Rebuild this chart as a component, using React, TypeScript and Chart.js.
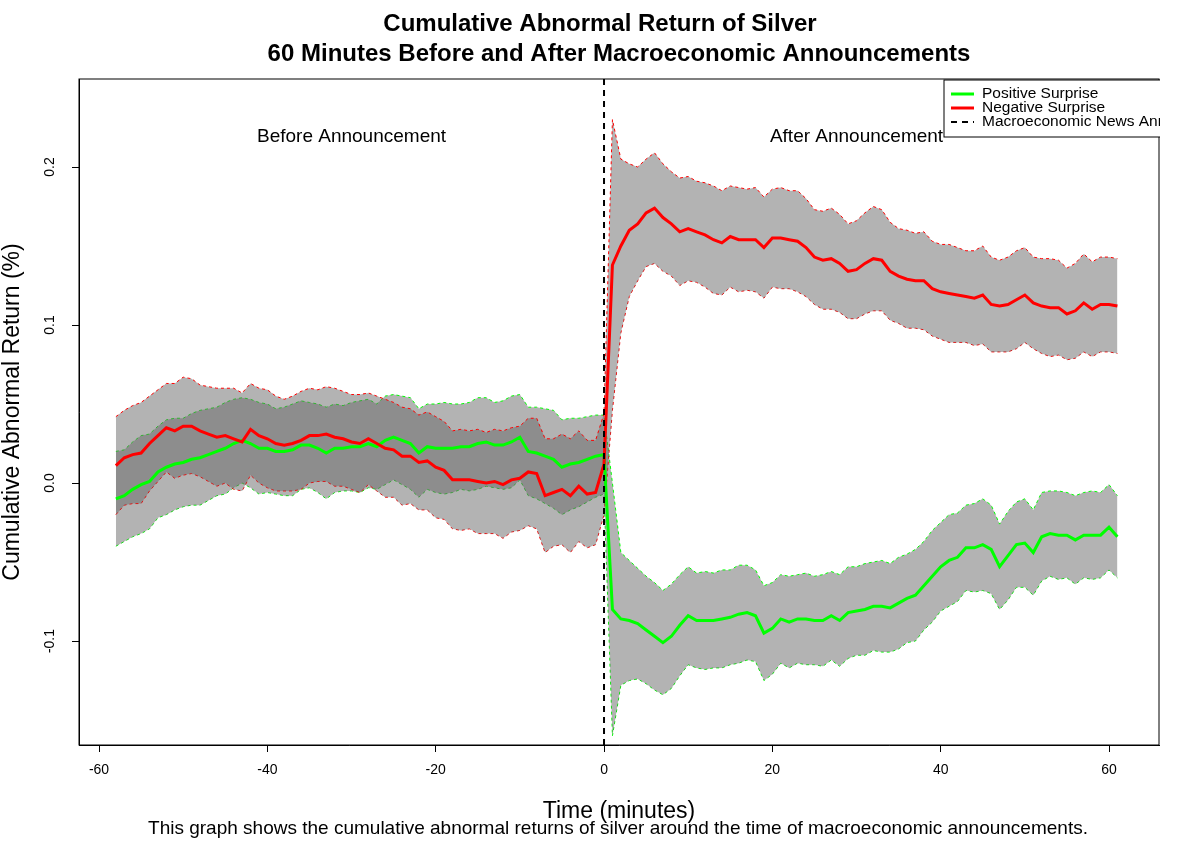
import React, { useEffect, useRef } from "react";
import { Chart, registerables } from "chart.js";
Chart.register(...registerables);

const minutes: number[] = [];
for (let t = -58; t <= 61; t++) minutes.push(t);

const negMean = [
  0.011, 0.016, 0.018, 0.019, 0.025, 0.030, 0.035, 0.033, 0.036, 0.036,
  0.033, 0.031, 0.029, 0.030, 0.028, 0.026, 0.034, 0.030, 0.028, 0.025,
  0.024, 0.025, 0.027, 0.030, 0.030, 0.031, 0.029, 0.028, 0.026, 0.025,
  0.028, 0.025, 0.022, 0.021, 0.017, 0.017, 0.013, 0.014, 0.010, 0.008,
  0.002, 0.002, 0.002, 0.001, 0.000, 0.001, -0.001, 0.002, 0.003, 0.007,
  0.006, -0.008, -0.006, -0.004, -0.008, -0.002, -0.007, -0.006, 0.012,
  0.138, 0.150, 0.160, 0.164, 0.171, 0.174, 0.168, 0.164, 0.159, 0.161,
  0.159, 0.157, 0.154, 0.152, 0.156, 0.154, 0.154, 0.154, 0.149, 0.155,
  0.155, 0.154, 0.153, 0.149, 0.143, 0.141, 0.142, 0.139, 0.134, 0.135,
  0.139, 0.142, 0.141, 0.134, 0.131, 0.129, 0.128, 0.128, 0.123, 0.121,
  0.120, 0.119, 0.118, 0.117, 0.119, 0.113, 0.112, 0.113, 0.116, 0.119,
  0.114, 0.112, 0.111, 0.111, 0.107, 0.109, 0.114, 0.110, 0.113, 0.113, 0.112,
];
const negHalf = [
  0.031, 0.030, 0.031, 0.032, 0.030, 0.029, 0.028, 0.030, 0.031, 0.030,
  0.029, 0.030, 0.031, 0.030, 0.032, 0.031, 0.029, 0.030, 0.031, 0.030,
  0.029, 0.030, 0.031, 0.030, 0.029, 0.030, 0.031, 0.030, 0.030, 0.031,
  0.029, 0.030, 0.031, 0.030, 0.031, 0.030, 0.030, 0.031, 0.032, 0.031,
  0.031, 0.032, 0.031, 0.033, 0.032, 0.033, 0.034, 0.033, 0.033, 0.034,
  0.035, 0.036, 0.034, 0.035, 0.036, 0.035, 0.034, 0.033, 0.032,
  0.092, 0.055, 0.042, 0.036, 0.034, 0.035, 0.034, 0.033, 0.034, 0.033,
  0.032, 0.033, 0.034, 0.033, 0.032, 0.033, 0.032, 0.033, 0.032, 0.031,
  0.032, 0.031, 0.032, 0.031, 0.030, 0.031, 0.032, 0.031, 0.030, 0.031,
  0.032, 0.033, 0.032, 0.031, 0.030, 0.031, 0.030, 0.031, 0.030, 0.030,
  0.031, 0.030, 0.029, 0.030, 0.031, 0.030, 0.029, 0.030, 0.031, 0.030,
  0.029, 0.030, 0.031, 0.030, 0.029, 0.030, 0.031, 0.030, 0.030, 0.030, 0.030,
];
const posMean = [
  -0.010, -0.008, -0.004, -0.001, 0.001, 0.007, 0.010, 0.012, 0.013, 0.015,
  0.016, 0.018, 0.020, 0.022, 0.025, 0.027, 0.025, 0.022, 0.022, 0.020,
  0.020, 0.021, 0.024, 0.024, 0.022, 0.019, 0.022, 0.022, 0.023, 0.023,
  0.025, 0.023, 0.027, 0.029, 0.027, 0.025, 0.019, 0.023, 0.022, 0.022,
  0.022, 0.023, 0.023, 0.025, 0.026, 0.024, 0.024, 0.026, 0.029, 0.020,
  0.019, 0.017, 0.015, 0.010, 0.012, 0.013, 0.015, 0.017, 0.018,
  -0.080, -0.086, -0.087, -0.089, -0.093, -0.097, -0.101, -0.097, -0.090, -0.084,
  -0.087, -0.087, -0.087, -0.086, -0.085, -0.083, -0.082, -0.084, -0.095, -0.092,
  -0.086, -0.088, -0.086, -0.086, -0.087, -0.087, -0.084, -0.087, -0.082, -0.081,
  -0.080, -0.078, -0.078, -0.079, -0.076, -0.073, -0.071, -0.065, -0.059, -0.053,
  -0.049, -0.047, -0.041, -0.041, -0.039, -0.042, -0.053, -0.046, -0.039, -0.038,
  -0.044, -0.034, -0.032, -0.033, -0.033, -0.036, -0.033, -0.033, -0.033, -0.028, -0.034,
];
const posHalf = [
  0.030, 0.029, 0.030, 0.031, 0.030, 0.029, 0.030, 0.029, 0.028, 0.029,
  0.030, 0.029, 0.028, 0.029, 0.028, 0.027, 0.028, 0.029, 0.028, 0.027,
  0.028, 0.029, 0.028, 0.027, 0.028, 0.029, 0.028, 0.027, 0.028, 0.029,
  0.028, 0.027, 0.028, 0.027, 0.028, 0.029, 0.028, 0.027, 0.028, 0.029,
  0.028, 0.027, 0.028, 0.029, 0.028, 0.027, 0.028, 0.029, 0.027, 0.028,
  0.029, 0.030, 0.031, 0.030, 0.029, 0.028, 0.027, 0.026, 0.025,
  0.080, 0.042, 0.038, 0.035, 0.034, 0.034, 0.033, 0.033, 0.032, 0.031,
  0.030, 0.031, 0.030, 0.031, 0.030, 0.031, 0.030, 0.029, 0.030, 0.029,
  0.028, 0.029, 0.028, 0.029, 0.028, 0.029, 0.028, 0.029, 0.029, 0.028,
  0.029, 0.028, 0.029, 0.028, 0.029, 0.028, 0.029, 0.028, 0.029, 0.028,
  0.029, 0.028, 0.027, 0.028, 0.029, 0.028, 0.027, 0.028, 0.027, 0.028,
  0.027, 0.028, 0.027, 0.028, 0.027, 0.028, 0.027, 0.028, 0.027, 0.027, 0.026,
];
const xTicks = [-60, -40, -20, 0, 20, 40, 60];
const yTicks = [-0.1, 0.0, 0.1, 0.2];
const yTickLabels = ["-0.1", "0.0", "0.1", "0.2"];
const legendLabels = ["Positive Surprise", "Negative Surprise", "Macroeconomic News Announcement"];

const FONT = "'Liberation Sans', Arial, Helvetica, sans-serif";
const BAND = "rgba(99,99,99,0.49)";

const pts = (vals: number[]) => vals.map((v, i) => ({ x: minutes[i], y: v }));

export default function App() {
  const ref = useRef<HTMLCanvasElement>(null);
  useEffect(() => {
    document.body.style.margin = "0";
    const ctx = ref.current!.getContext("2d")!;
    const decor = {
      id: "decor",
      afterDraw(chart: any) {
        const c = chart.ctx;
        const a = chart.chartArea;
        const ys = chart.scales.y;
        const xs = chart.scales.x;
        c.save();
        c.strokeStyle = "#000";
        c.lineWidth = 1;
        c.strokeRect(a.left, a.top, a.right - a.left, a.bottom - a.top);
        c.fillStyle = "#000";
        c.textAlign = "center";
        c.textBaseline = "middle";
        c.font = `bold 24px ${FONT}`;
        c.fillText("Cumulative Abnormal Return of Silver", 600, 24);
        c.fillText("60 Minutes Before and After Macroeconomic Announcements", 619, 54);
        c.font = `19px ${FONT}`;
        c.fillText("Before Announcement", xs.getPixelForValue(-30), 137);
        c.fillText("After Announcement", xs.getPixelForValue(30), 137);
        c.font = `23px ${FONT}`;
        c.fillText("Time (minutes)", 619, 812);
        c.font = `19px ${FONT}`;
        c.fillText("This graph shows the cumulative abnormal returns of silver around the time of macroeconomic announcements.", 618, 829);
        c.font = `14px ${FONT}`;
        yTicks.forEach((v, i) => {
          c.save();
          c.translate(50, ys.getPixelForValue(v));
          c.rotate(-Math.PI / 2);
          c.fillText(yTickLabels[i], 0, 0);
          c.restore();
        });
        c.font = `23px ${FONT}`;
        c.save();
        c.translate(13, 412);
        c.rotate(-Math.PI / 2);
        c.fillText("Cumulative Abnormal Return (%)", 0, 0);
        c.restore();
        // legend
        const lx = 944, ly = 80, lw = 230, lh = 57;
        c.save();
        c.beginPath();
        c.rect(0, 0, a.right + 1, 844);
        c.clip();
        c.fillStyle = "#fff";
        c.fillRect(lx, ly, lw, lh);
        c.strokeStyle = "#000";
        c.strokeRect(lx, ly, lw, lh);
        const cols = ["#00ff00", "#ff0000", "#000"];
        c.textAlign = "left";
        c.font = `15.5px ${FONT}`;
        legendLabels.forEach((t, i) => {
          const y = 94 + i * 14;
          c.strokeStyle = cols[i];
          c.lineWidth = i === 2 ? 2 : 3;
          c.setLineDash(i === 2 ? [6, 5] : []);
          c.beginPath();
          c.moveTo(951, y);
          c.lineTo(974, y);
          c.stroke();
          c.setLineDash([]);
          c.fillStyle = "#000";
          c.fillText(t, 982, y);
        });
        c.restore();
        c.restore();
      },
    };
    const edge = (color: string, fill: any) => ({
      borderColor: color,
      borderWidth: 1,
      borderDash: [3, 3],
      pointRadius: 0,
      backgroundColor: BAND,
      fill,
      order: 5,
    });
    const chart = new Chart(ctx, {
      type: "line",
      data: {
        datasets: [
          { ...edge("#ff0000", "+1"), data: pts(negMean.map((m, i) => m + negHalf[i])) } as any,
          { ...edge("#ff0000", false), data: pts(negMean.map((m, i) => m - negHalf[i])) },
          { ...edge("#00ff00", "+1"), data: pts(posMean.map((m, i) => m + posHalf[i])) },
          { ...edge("#00ff00", false), data: pts(posMean.map((m, i) => m - posHalf[i])) },
          { data: pts(posMean), borderColor: "#00ff00", borderWidth: 3, pointRadius: 0, fill: false, order: 2 },
          { data: pts(negMean), borderColor: "#ff0000", borderWidth: 3, pointRadius: 0, fill: false, order: 1 },
          {
            data: [{ x: 0, y: -0.1658 }, { x: 0, y: 0.2557 }],
            borderColor: "#000", borderWidth: 2, borderDash: [6, 5], pointRadius: 0, fill: false, order: 0,
          },
        ],
      },
      options: {
        responsive: false,
        animation: false,
        layout: { padding: { top: 79, right: 41, left: 0, bottom: 0 } },
        plugins: { legend: { display: false }, tooltip: { enabled: false }, title: { display: false } },
        scales: {
          x: {
            type: "linear",
            min: -62.38,
            max: 65.94,
            afterBuildTicks: (s: any) => { s.ticks = xTicks.map((v) => ({ value: v })); },
            afterFit: (s: any) => { s.height = 99; },
            grid: { drawOnChartArea: false, drawTicks: true, tickLength: 7, color: "#000" },
            border: { display: true, color: "#000" },
            ticks: { color: "#000", font: { size: 14, family: FONT }, padding: 10, maxRotation: 0, autoSkip: false, callback: (v: any) => String(v) },
          },
          y: {
            min: -0.1658,
            max: 0.2557,
            afterBuildTicks: (s: any) => { s.ticks = yTicks.map((v) => ({ value: v })); },
            afterFit: (s: any) => { s.width = 79; },
            grid: { drawOnChartArea: false, drawTicks: true, tickLength: 7, color: "#000" },
            border: { display: true, color: "#000" },
            ticks: { color: "rgba(0,0,0,0)", font: { size: 14, family: FONT } },
          },
        },
      },
      plugins: [decor],
    });
    return () => chart.destroy();
  }, []);
  return <canvas ref={ref} width={1200} height={844} style={{ display: "block" }} />;
}
